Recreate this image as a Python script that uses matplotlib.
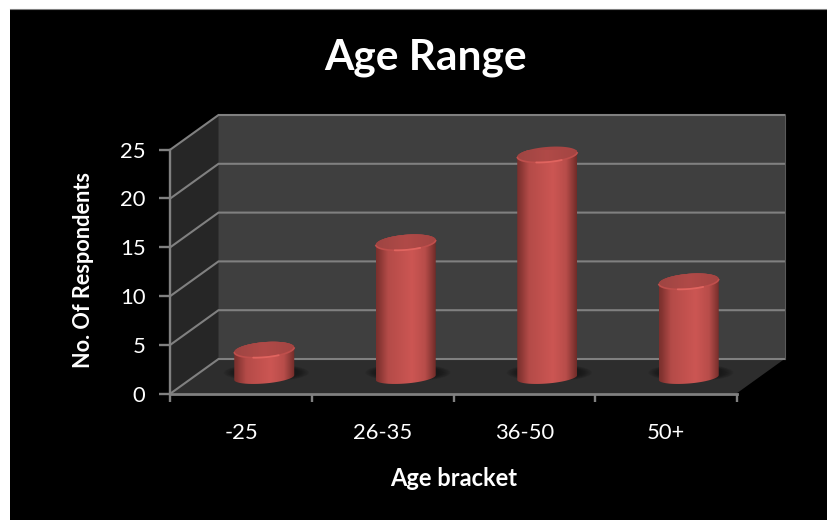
import matplotlib
matplotlib.use('Agg')
import matplotlib.pyplot as plt
from matplotlib.patches import Polygon, Rectangle
import numpy as np

categories = ['-25', '26-35', '36-50', '50+']
values = [3, 14, 23, 10]
y_ticks = [0, 5, 10, 15, 20, 25]

title = 'Age Range'
x_title = 'Age bracket'
y_title = 'No. Of Respondents'

plt.rcParams['font.family'] = ['Lato', 'DejaVu Sans']

W, H = 828, 520
fig = plt.figure(figsize=(W / 100, H / 100), dpi=100, facecolor='white')

# black panel behind everything
panel = Rectangle((10 / W, 0), 818 / W, 1 - 9 / H, transform=fig.transFigure,
                  facecolor='black', edgecolor='none', zorder=-2)
fig.add_artist(panel)
fig.add_artist(plt.Line2D([10 / W, 1], [1 - 8.5 / H, 1 - 8.5 / H], color='#808080', lw=0.8, zorder=-1))

# axes = the front plane of the 3d box
left, right, bottom, top = 170.5, 736.5, 393.5, 149.5
ax = fig.add_axes([left / W, 1 - bottom / H, (right - left) / W, (bottom - top) / H])
ax.set_xlim(-0.5, 3.5)
ax.set_ylim(0, 25)
ax.patch.set_alpha(0)
for s in ax.spines.values():
    s.set_visible(False)

px_x = (right - left) / 4
px_y = (bottom - top) / 25
dx = 48 / px_x   # depth offset in data units
dy = 34.5 / px_y

grid_c = '#808080'

# walls
ax.add_patch(Polygon([(-0.5 + dx, dy), (3.5 + dx, dy), (3.5 + dx, 25 + dy), (-0.5 + dx, 25 + dy)],
                     fc='#3f3f3f', ec='none', clip_on=False, zorder=1))
ax.add_patch(Polygon([(-0.5, 0), (-0.5 + dx, dy), (-0.5 + dx, 25 + dy), (-0.5, 25)],
                     fc='#262626', ec='none', clip_on=False, zorder=1))
ax.add_patch(Polygon([(-0.5, 0), (3.5, 0), (3.5 + dx, dy), (-0.5 + dx, dy)],
                     fc='#2d2d2d', ec='none', clip_on=False, zorder=1))

# gridlines run along side wall and back wall
for t in y_ticks:
    ax.plot([-0.5, -0.5 + dx, 3.5 + dx], [t, t + dy, t + dy], color=grid_c, lw=1.5,
            clip_on=False, zorder=2, solid_joinstyle='miter')
ax.plot([-0.5, -0.5], [0, 25], color=grid_c, lw=1.7, clip_on=False, zorder=3)
ax.plot([-0.5, 3.5], [0, 0], color=grid_c, lw=2.0, clip_on=False, zorder=3)
ax.plot([3.5 + dx, 3.5 + dx], [dy, 25 + dy], color='#5a5a5a', lw=0.8, clip_on=False, zorder=2)

# cylinders
bar_dx = 23 / px_x
base_y = 14.5 / px_y
low_shift = 1.5 / px_y
a = 30 / px_x
b = 7.6 / px_y
b_low = 6 / px_y
skew = 2.4 / px_y

body_pos = [0, 0.05, 0.2, 0.6, 0.82, 0.96, 1]
body_rgb = np.array([[0x7a, 0x30, 0x2d], [0x85, 0x35, 0x32], [0xb4, 0x4b, 0x48], [0xcc, 0x56, 0x53],
                     [0xb8, 0x4d, 0x4a], [0x80, 0x33, 0x30], [0x70, 0x2b, 0x28]]) / 255
u = np.linspace(0, 1, 256)
body_img = np.stack([np.interp(u, body_pos, body_rgb[:, i]) for i in range(3)], axis=1)[None, :, :]
top_img = np.stack([np.interp(u, [0, 0.5, 1], [c0, c1, c2]) for c0, c1, c2 in
                    zip((0.62, 0.27, 0.26), (0.69, 0.29, 0.28), (0.64, 0.27, 0.26))], axis=1)[None, :, :]
theta = np.linspace(0, 2 * np.pi, 121)

for i, v in enumerate(values):
    cx = i + bar_dx
    y0 = base_y + low_shift
    y1 = v + base_y

    # soft shadow on the floor
    for k in range(12):
        f = 1.42 - k * 0.035
        ax.add_patch(Polygon(np.c_[cx + 0.015 + a * f * np.cos(theta), y0 + 0.5 + b_low * f * np.sin(theta)],
                             fc='#141414', ec='none', alpha=0.09, clip_on=False, zorder=3))

    # side of the cylinder, lower half of bottom ellipse + upper edge through top ellipse
    t_low = np.linspace(np.pi, 2 * np.pi, 60)
    low = np.c_[cx + a * np.cos(t_low), y0 + b_low * np.sin(t_low) + skew * np.cos(t_low)]
    t_up = np.linspace(0, np.pi, 60)
    up = np.c_[cx + a * np.cos(t_up), y1 + b * np.sin(t_up) + skew * np.cos(t_up)]
    outline = Polygon(np.r_[low, up], fc='none', ec='none', clip_on=False)
    ax.add_patch(outline)
    im = ax.imshow(body_img, extent=(cx - a, cx + a, 0, y1 + 2 * b), aspect='auto', zorder=4,
                   interpolation='bilinear')
    im.set_clip_path(outline)

    # top ellipse with a soft rim, brightest at the front
    cap_pts = np.c_[cx + a * np.cos(theta), y1 + b * np.sin(theta) + skew * np.cos(theta)]
    cap = Polygon(cap_pts, fc='#a94644', ec='none', clip_on=False, zorder=5)
    ax.add_patch(cap)
    im2 = ax.imshow(top_img, extent=(cx - a, cx + a, y1 - b - skew, y1 + b + skew), aspect='auto',
                    zorder=5.1, interpolation='bilinear')
    im2.set_clip_path(cap)
    t_rim = np.linspace(np.pi + 0.1, 2 * np.pi - 0.1, 50)
    ax.plot(cx + a * np.cos(t_rim), y1 + b * np.sin(t_rim) + skew * np.cos(t_rim), color='#bf4f4c',
            lw=1.2, zorder=5.2, clip_on=False)
    t_hi = np.linspace(1.38 * np.pi, 1.66 * np.pi, 30)
    ax.plot(cx + a * np.cos(t_hi), y1 + b * np.sin(t_hi) + skew * np.cos(t_hi), color='#e0645f',
            lw=1.3, zorder=5.3, clip_on=False, solid_capstyle='round')

ax.set_xlim(-0.5, 3.5)
ax.set_ylim(0, 25)

# ticks
ax.set_yticks(y_ticks)
ax.set_xticks(np.arange(-0.5, 4, 1))
ax.set_xticklabels([])
ax.set_xticks(range(4), minor=True)
ax.set_xticklabels(categories, minor=True)
ax.tick_params(axis='x', which='minor', length=0, pad=21, labelsize=15.8, colors='white')
ax.tick_params(axis='x', which='major', length=6, width=1.7, color=grid_c, labelbottom=False)
ax.tick_params(axis='y', length=8, width=1.7, color=grid_c, labelsize=15.8, labelcolor='white', pad=10)

fig.text(425.5 / W, 1 - 57.5 / H, title, color='white', fontsize=30.5, fontweight='bold', ha='center', va='center')
fig.text(454 / W, 1 - 479 / H, x_title, color='white', fontsize=17, fontweight='bold', ha='center', va='center')
fig.text(84 / W, 1 - 270 / H, y_title, color='white', fontsize=15.6, fontweight='bold', ha='center', va='center',
         rotation=90)

fig.savefig('out.png', dpi=100, facecolor='white')
